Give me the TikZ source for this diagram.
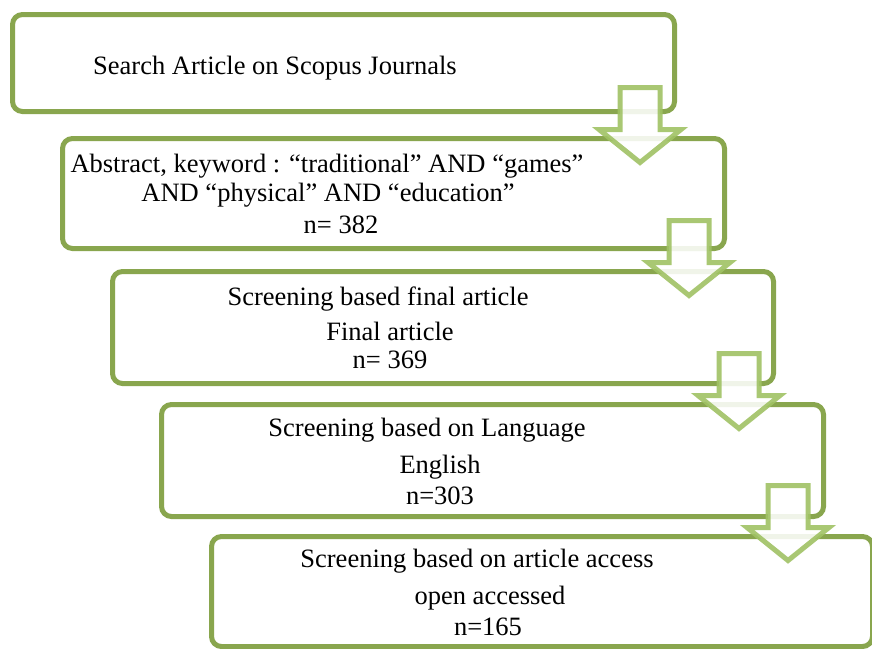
\documentclass[tikz,border=0pt]{standalone}
\usepackage{fontspec}
\setmainfont{Liberation Serif}
\usetikzlibrary{calc}

\definecolor{boxgreen}{RGB}{137,166,78}
\definecolor{arrowgreen}{RGB}{160,194,100}

\tikzset{
    stage/.style={draw=boxgreen, line width=5pt, rounded corners=10pt, fill=white, anchor=north west, inner sep=0pt},
    txt/.style={anchor=base, inner sep=0pt, font=\fontsize{26.5}{30}\selectfont},
    arrowline/.style={draw=arrowgreen, line width=5pt, fill=white, fill opacity=0.88, draw opacity=0.9, miter limit=4},
    pics/downarrow/.style={code={
        \draw[arrowline] (-20,0) -- (20,0) -- (20,42) -- (41,42) -- (0,75) -- (-41,42) -- (-20,42) -- cycle;
    }}
}

\begin{document}
\begin{tikzpicture}[x=1pt, y=-1pt]
    \useasboundingbox (0,0) rectangle (872,648);

    % Boxes (stepped to the right)
    \node[stage, minimum width=662pt, minimum height=97pt] (search) at (10,12) {};
    \node[stage, minimum width=662pt, minimum height=110pt] (abstract) at (60,136) {};
    \node[stage, minimum width=661pt, minimum height=112pt] (screenfinal) at (110,269) {};
    \node[stage, minimum width=662pt, minimum height=112pt] (screenlang) at (159,402) {};
    \node[stage, minimum width=661pt, minimum height=110pt] (screenaccess) at (209,534) {};

    % Texts
    \node[txt] (searchtext) at (275,74) {Search Article on Scopus Journals};
    \node[txt] (abstractA) at (327,172) {Abstract, keyword : “traditional” AND “games”};
    \node[txt] (abstractB) at (328,201) {AND “physical” AND “education”};
    \node[txt] (abstractN) at (341,233) {n= 382};
    \node[txt] (finalA) at (378,305) {Screening based final article};
    \node[txt] (finalB) at (390,340) {Final article};
    \node[txt] (finalN) at (390,368) {n= 369};
    \node[txt] (langA) at (427,436) {Screening based on Language};
    \node[txt] (langB) at (440,473) {English};
    \node[txt] (langN) at (440,504) {n=303};
    \node[txt] (accessA) at (477,567) {Screening based on article access};
    \node[txt] (accessB) at (490,604) {open accessed};
    \node[txt] (accessN) at (488,635) {n=165};

    % Block arrows into the next box
    \foreach \nxt in {abstract, screenfinal, screenlang, screenaccess}
        \pic at ($(\nxt.north east)+(-87,-48.5)$) {downarrow};
\end{tikzpicture}
\end{document}
